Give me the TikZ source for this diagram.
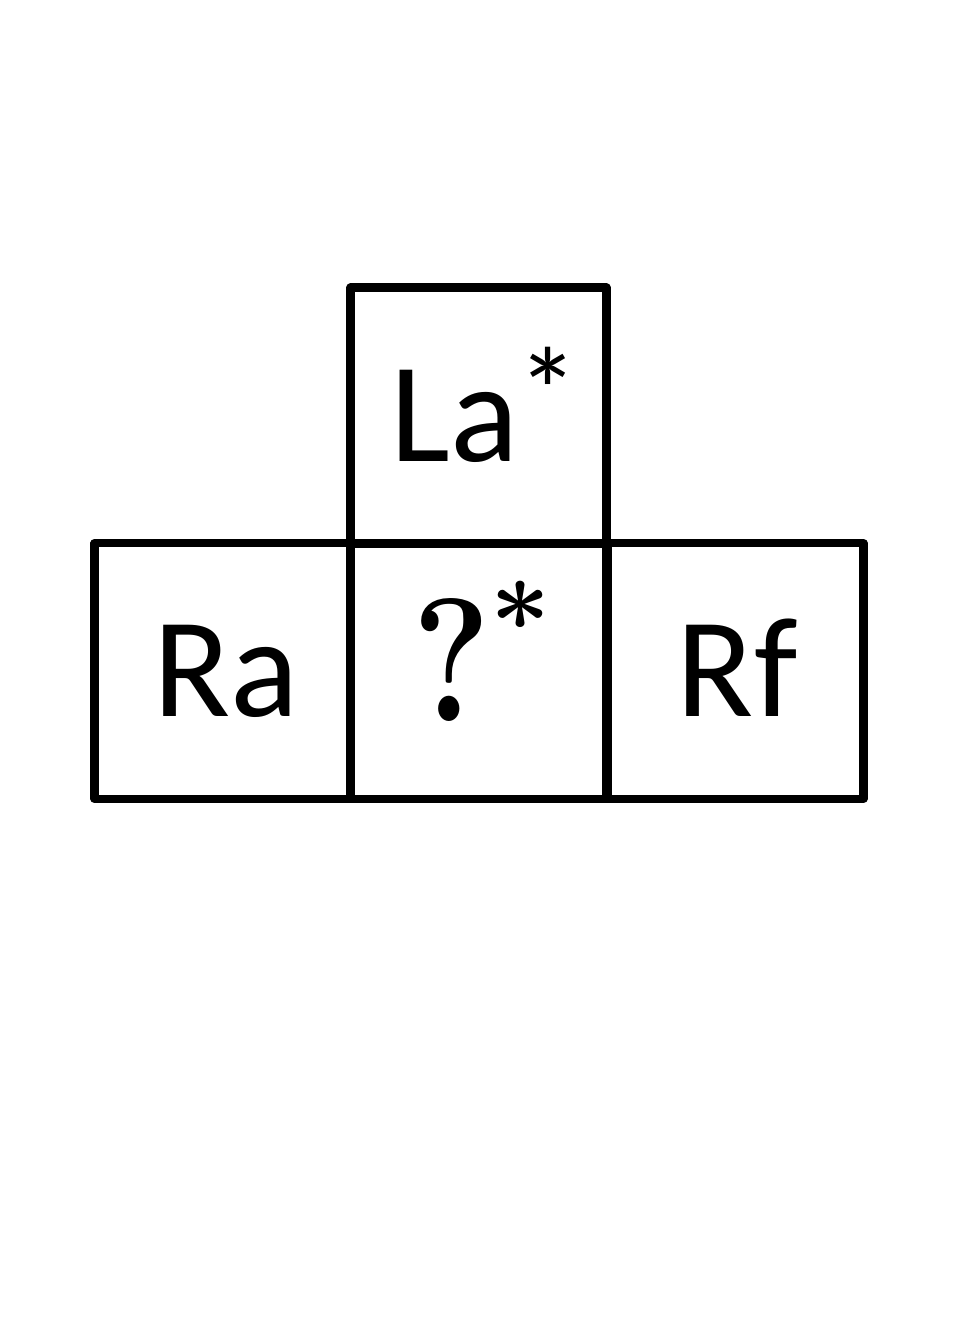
\documentclass[tikz,border=0pt]{standalone}
\usepackage{fix-cm}
\usepackage{graphicx}
\usepackage[no-math]{fontspec}
\newfontfamily\elemfont{Carlito}
\begin{document}
\begin{tikzpicture}[x=0.02cm,y=-0.02cm,
    elemBox/.style={rectangle,draw=black,line width=4.6pt,line join=round,minimum size=5.12cm,inner sep=0pt},
    elemName/.style={font=\elemfont\fontsize{81}{90}\selectfont,text height=52pt,text depth=0pt},
    unknownName/.style={font=\fontsize{100}{110}\selectfont\boldmath,text height=69pt,text depth=11pt},
]
\useasboundingbox (0,0) rectangle (960,1344);
\node[elemBox,elemName] (la) at (478.5,415.5) {\hspace{7pt}La\hspace{-1pt}\raisebox{15pt}{\fontsize{70}{70}\selectfont *}};
\node[elemBox,elemName] (ra) at (222.5,671) {\hspace{4pt}Ra};
\node[elemBox,unknownName] (unk) at (478.5,671) {\hspace{4pt}$\scalebox{0.84}[1]{$?$}^{\raisebox{9.5pt}{\scalebox{0.85}{$\scriptstyle *$}}}$};
\node[elemBox,elemName] (rf) at (735.5,671) {\hspace{2pt}Rf};
\end{tikzpicture}
\end{document}
